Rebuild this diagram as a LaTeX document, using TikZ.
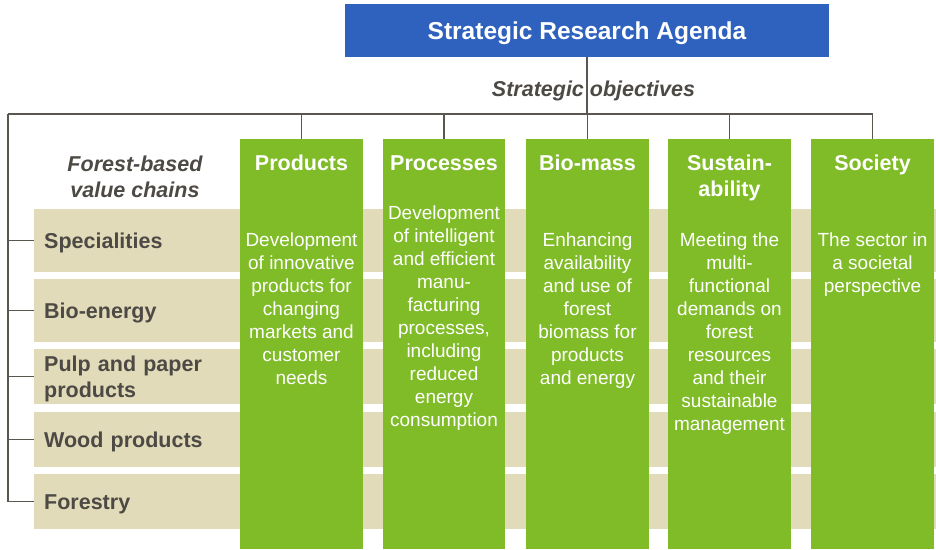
\documentclass[tikz,border=0pt]{standalone}
\usepackage{fontspec}
\setmainfont{Liberation Sans}
\usetikzlibrary{positioning}

\definecolor{agendablue}{HTML}{2E62BE}
\definecolor{objgreen}{HTML}{80BC28}
\definecolor{chainbeige}{HTML}{E2DBBA}
\definecolor{labelgray}{HTML}{4D4A45}
\definecolor{linegray}{HTML}{5A5650}

\tikzset{
	chain/.style={fill=chainbeige, anchor=north west, minimum height=#1,
		text width=882pt, inner xsep=10pt, align=left, text depth=0pt,
		text=labelgray, font=\fontsize{21.5}{26}\selectfont\bfseries},
	objective/.style={fill=objgreen, anchor=north, minimum width=123pt, minimum height=410pt},
	objhead/.style={anchor=north, align=center, inner sep=0pt, text=white,
		font=\fontsize{21.5}{26}\selectfont\bfseries},
	objtext/.style={anchor=north, align=center, inner sep=0pt, text=white,
		font=\fontsize{19}{23}\selectfont},
	caption/.style={align=center, inner sep=0pt, text=labelgray,
		font=\fontsize{21.5}{26}\selectfont\bfseries\itshape},
	link/.style={draw=linegray, line width=1.2pt}
}

\begin{document}
\begin{tikzpicture}[x=1pt, y=-1pt]
	\useasboundingbox (0,0) rectangle (936,549);

	% Agenda
	\node[fill=agendablue, minimum width=484pt, minimum height=53pt, text depth=0pt,
		text=white, font=\fontsize{24.5}{28}\selectfont\bfseries] (sra) at (587,30.5) {Strategic Research Agenda};

	% Value chains
	\node[chain=63pt] (spec) at (34,209) {Specialities};
	\node[chain=63pt] (bioenergy) at (34,279) {Bio-energy};
	\node[chain=55pt, text depth=25pt] (pulp) at (34,349) {Pulp and paper\\products};
	\node[chain=55pt] (wood) at (34,412) {Wood products};
	\node[chain=55pt] (forestry) at (34,474) {Forestry};

	% Objectives
	\node[objective] (products) at (301.5,139) {};
	\node[objective, minimum width=122pt] (processes) at (444,139) {};
	\node[objective] (biomass) at (587.5,139) {};
	\node[objective] (sustain) at (729.5,139) {};
	\node[objective] (society) at (872.5,139) {};

	\node[objhead] at (301.5,155) {Products};
	\node[objhead] at (444,155.6) {Processes};
	\node[objhead] at (587.5,155) {Bio-mass};
	\node[objhead] at (729.5,155) {Sustain-\\ability};
	\node[objhead] at (872.5,155) {Society};

	\node[objtext] at (301.5,233) {Development\\of innovative\\products for\\changing\\markets and\\customer\\needs};
	\node[objtext] at (444,206) {Development\\of intelligent\\and efficient\\manu-\\facturing\\processes,\\including\\reduced\\energy\\consumption};
	\node[objtext] at (587.5,233) {Enhancing\\availability\\and use of\\forest\\biomass for\\products\\and energy};
	\node[objtext] at (729.5,233) {Meeting the\\multi-\\functional\\demands on\\forest\\resources\\and their\\sustainable\\management};
	\node[objtext] at (872.5,233) {The sector in\\a societal\\perspective};

	% Links
	\coordinate (corner) at (8,114);
	\draw[link] (sra.south) -- (sra.south |- corner);
	\draw[link] (corner) -- (society.north |- corner) -- (society.north);
	\draw[link] (products.north |- corner) -- (products.north);
	\draw[link] (processes.north |- corner) -- (processes.north);
	\draw[link] (biomass.north |- corner) -- (biomass.north);
	\draw[link] (sustain.north |- corner) -- (sustain.north);
	\draw[link] (corner) |- (forestry.west);
	\draw[link] (spec.west -| corner) -- (spec.west);
	\draw[link] (bioenergy.west -| corner) -- (bioenergy.west);
	\draw[link] (pulp.west -| corner) -- (pulp.west);
	\draw[link] (wood.west -| corner) -- (wood.west);

	% Captions
	\node[caption, anchor=base] (objectives) at (593.5,96.5) {Strategic objectives};
	\node[caption, anchor=north] (chains) at (135,155.5) {Forest-based\\value chains};
\end{tikzpicture}
\end{document}
